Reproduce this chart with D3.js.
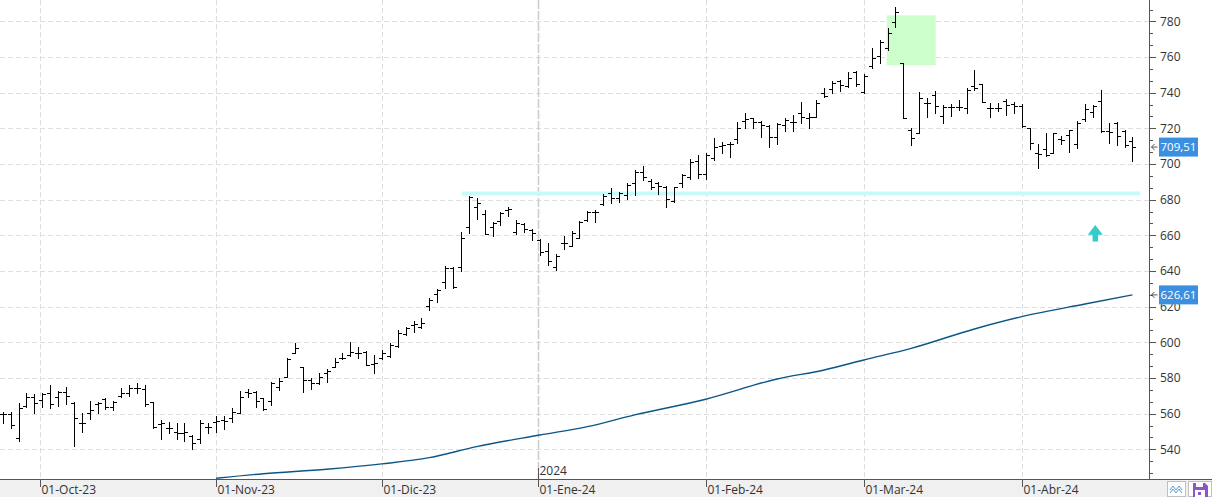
<!DOCTYPE html>
<html><head><meta charset="utf-8">
<script src="https://cdn.jsdelivr.net/npm/d3@7"></script>
<style>html,body{margin:0;padding:0;background:#fff;overflow:hidden}</style>
</head><body><svg id="c" width="1212" height="497"></svg>
<script>
// ---------- DATA ----------
const tradingDays = {
  "2023-09": [25,26,27,28,29],
  "2023-10": [2,3,4,5,6,9,10,11,12,13,16,17,18,19,20,23,24,25,26,27,30,31],
  "2023-11": [1,2,3,6,7,8,9,10,13,14,15,16,17,20,21,22,24,27,28,29,30],
  "2023-12": [1,4,5,6,7,8,11,12,13,14,15,18,19,20,21,22,26,27,28,29],
  "2024-01": [2,3,4,5,8,9,10,11,12,16,17,18,19,22,23,24,25,26,29,30,31],
  "2024-02": [1,2,5,6,7,8,9,12,13,14,15,16,20,21,22,23,26,27,28,29],
  "2024-03": [1,4,5,6,7,8,11,12,13,14,15,18,19,20,21,22,25,26,27,28],
  "2024-04": [1,2,3,4,5,8,9,10,11,12,15,16,17,18,19]
};
const monthLabels = ["01-Oct-23","01-Nov-23","01-Dic-23","01-Ene-24","01-Feb-24","01-Mar-24","01-Abr-24"];
const monthKeys   = ["2023-10","2023-11","2023-12","2024-01","2024-02","2024-03","2024-04"];
const yearMarkKey = "2024-01";
const yearLabel = "2024";

const opens = [559.6,559.6,546.5,564.3,569.5,567.7,571.4,569.5,572.3,566.2,554.6,560.6,565.2,568,564,569.9,571.8,574.2,573.6,566.3,554,551.8,549.5,549,547.7,545.6,552.3,555.5,
556.4,557.4,560.2,572.1,572.3,568.6,567.3,574.8,580.7,593.8,586,578.9,577,582.6,586.4,591,592.9,594.2,594.8,587.8,591,592.3,597.9,
604.6,609.7,608.8,620.3,627.1,633.6,641.5,642,664.5,676.1,672,664.9,668,674.2,661.7,666.2,663,657.4,651,642.2,655.5,654,658.3,668.6,673.3,
677.4,683.5,680.7,682.6,689.2,695.7,690.6,689.2,687.3,679.4,689.2,692.9,701.5,694.6,703.2,710.3,711.2,714,724.3,725.6,723.7,721.3,715,
721.9,723.7,728.8,725.6,726.5,740,741.9,746.7,743.7,751.8,740.6,754.9,760.6,764.9,779.8,756.4,719,717.2,734.4,738.7,726.9,731.8,731.8,
731.2,743.7,744.8,731.2,731.2,735.5,733.6,732.5,720,706.3,708.2,706.3,713.8,716.3,711.2,725,729.3,735.5,718.7,723.2,718.7,713];
const highs = [560.7,560.7,566.2,571.8,571,571.8,576,572.7,574.8,566.7,560.2,567,566.3,569,567.3,574.2,576,577,576,566.3,556.4,555.5,555,555,548,556.4,554.6,558.7,
558.7,563,572.7,573.6,572.7,569,577.6,579.8,591,599.8,586.4,579.8,582.6,584.9,591,593.8,600,597.6,595.3,592.9,595.7,599.4,607,
608.8,612.1,613.4,624.6,629.7,642.8,642,661.7,682,680.7,674.2,667.7,673.3,676.1,668.6,667.1,663.4,657.7,655.5,649.3,659.6,662.2,668,673.6,674.2,
683,686.3,684.5,689.2,696.6,698.9,691.4,690.1,687.7,687.3,694.4,702.6,705,706,714.4,712.5,712.5,723.7,728.8,725.6,724.1,721.9,722.8,
726,727.5,735,728.8,735.9,742.4,746.7,747.1,751.8,752.3,750.5,764.9,769.5,776.1,788.2,756.4,720,740.5,736.8,741.1,733.1,733.6,735.9,
742.4,752.7,744.8,734,734,736.2,735,733.6,720,711.2,717.2,717.2,715.7,719,724.3,733.6,733.1,741.5,722.8,723.7,719,715.3];
const lows = [554.6,551.7,544.7,563.9,560.6,563.5,563,564.3,565.2,542,549.5,556.8,560.2,562.4,562,569.5,570,571.8,564.5,552,546,549,545.8,544.7,540,543.3,549,549.9,
551.6,555.5,560.2,569.5,564,562,564.8,573.3,580.7,593.8,572,573.6,576.6,577.6,586,590.5,592.3,591,587.3,582.6,590.5,592,597.6,
604.1,606,607.8,618.1,622.8,630.3,630.3,640.2,661.1,669,660.7,659.6,665.8,670.8,660.7,661.7,657.4,649,643.3,640.3,652.1,654,658.3,668.2,667.7,
677,677.9,678.9,680.2,682.6,691,685.8,683.2,675.7,678.9,686.9,691.4,692,691.4,702.2,706,704,712,720,720,715.3,709.3,711.2,
718.5,718.5,723.2,720.4,726.2,737.4,739.6,741.1,743,743.7,739.6,753.6,756.8,763.9,777,725.6,710.6,717.2,726.5,728.8,723.2,726.9,730.3,
728.8,741.5,734.9,726.5,729.7,727.5,728.4,720.9,708.2,697.6,704.5,706,711.2,706.9,708.8,724.3,726.5,717.8,712,710.6,709.7,701.9];
const closes = [559.8,553.6,563,569.2,566.2,571,565.2,572.3,569.9,557.4,555,562,565.8,563.5,566.7,571.8,574.2,574.5,565.2,552.7,554.6,551.8,549,549.5,543.3,554.6,552.3,556,
556,561,569.5,571.8,567.3,562.8,577,578.5,590.6,596.6,578.9,577,580.7,584.1,589.2,591.3,594.8,593.8,587.3,588.2,594.2,598.5,605.4,
607.8,610.1,610.6,624,629.3,641.5,630.8,658.3,681.7,678.3,660.7,666.7,672.7,674.6,666.7,663.4,661.1,650.8,645.4,648.4,655.9,661.5,667.7,673.3,673.3,
682,681.1,683.9,688.2,695.7,692.9,686.9,687.7,680.4,686.9,693.8,701.3,694.5,705,709.3,710.6,711.2,720,725,723.7,721.9,715,722.4,
724.7,723.7,726.5,726.2,734.4,738.1,745.6,744.3,748,744.9,749.6,759.2,768.6,773.3,785.4,725.6,714.7,736.8,734.4,732.5,731.8,731.8,731.8,
741.5,742.4,734.9,731.2,731.2,733.1,732.8,721.1,711.8,705.6,705,717.2,713.4,719,722.8,730.6,732.5,718.7,718.1,715.7,710.6,709.51];

// 200-session moving average, read at selected sessions (index into the date list)
const smaIndex  = [27,33,41,48,54,60,68,74,80,89,98,104,109,115,123,129,137,143];
const smaValues = [523.8,526.3,528.8,531.8,535.3,541.5,548.0,552.7,559.3,568.1,579.4,584.5,590.1,596.6,607.5,614.4,621.5,626.61];

const yTickValues = [540,560,580,600,620,640,660,680,700,720,740,760,780];
const yDomain = [540,780];

// drawn annotations (data units)
const supportLevel = 683.5, supportStart = 58.1, supportEnd = 144;
const zoneStart = 111.9, zoneEnd = 118.1, zoneLow = 755.4, zoneHigh = 783.4;
const arrowAt = 138.3, arrowTop = 665.8, arrowBottom = 656.6;

// ---------- BUILD ----------
const dates = [];
Object.keys(tradingDays).forEach(k => tradingDays[k].forEach(d => dates.push(k + "-" + String(d).padStart(2,"0"))));
const bars = dates.map((d,i)=>({d, o:opens[i], h:highs[i], l:lows[i], c:closes[i]}));

const W=1212, H=497, axisX=1149, axisY=479;
const svg = d3.select("#c");
const font = "'Open Sans', 'Noto Sans', sans-serif";

const x = d3.scalePoint().domain(dates).range([2.7, 1132.4]);
const xi = d3.scaleLinear().domain([0, dates.length-1]).range([2.7, 1132.4]);
const y = d3.scaleLinear().domain(yDomain).range([449.3, 21.4]);

// calendar position of the 1st of a month, between surrounding sessions
function monthStartX(k){
  const i = dates.findIndex(d => d.startsWith(k));
  const first = new Date(k + "-01T00:00:00Z");
  const di = new Date(dates[i] + "T00:00:00Z");
  if (i === 0 || +di === +first) return x(dates[i]);
  const dp = new Date(dates[i-1] + "T00:00:00Z");
  const f = (first - dp) / (di - dp);
  return x(dates[i-1]) + f * (x(dates[i]) - x(dates[i-1]));
}
const monthX = monthKeys.map(monthStartX);

// backgrounds
svg.append("rect").attr("width",W).attr("height",H).attr("fill","#fff");
svg.append("rect").attr("x",0).attr("y",axisY).attr("width",W).attr("height",H-axisY).attr("fill","#f0f0f0");

svg.append("defs").append("clipPath").attr("id","plot").append("rect")
  .attr("x",0).attr("y",0).attr("width",axisX).attr("height",axisY);
const plot = svg.append("g").attr("clip-path","url(#plot)");

// horizontal grid
plot.selectAll("line.hg").data(yTickValues).join("line")
  .attr("x1",0).attr("x2",axisX)
  .attr("y1",d=>Math.round(y(d))+0.5).attr("y2",d=>Math.round(y(d))+0.5)
  .attr("stroke","#dddddd").attr("stroke-dasharray","5,3");

// month starts
plot.selectAll("line.vg").data(monthX).join("line")
  .attr("x1",v=>Math.round(v)+0.5).attr("x2",v=>Math.round(v)+0.5)
  .attr("y1",0).attr("y2",axisY)
  .attr("stroke",(v,j)=>monthKeys[j]===yearMarkKey?"#cccccc":"#dddddd")
  .attr("stroke-width",(v,j)=>monthKeys[j]===yearMarkKey?1.5:1)
  .attr("stroke-dasharray",(v,j)=>monthKeys[j]===yearMarkKey?"9,2":"5,3");

// green zone
plot.append("rect")
  .attr("x",xi(zoneStart)).attr("y",y(zoneHigh))
  .attr("width",xi(zoneEnd)-xi(zoneStart)).attr("height",y(zoneLow)-y(zoneHigh))
  .attr("fill","#ccffcc");

// support line
plot.append("line")
  .attr("x1",xi(supportStart)).attr("x2",xi(supportEnd))
  .attr("y1",y(supportLevel)).attr("y2",y(supportLevel))
  .attr("stroke","#c8fafa").attr("stroke-width",4);

// SMA
plot.append("path")
  .datum(smaIndex.map((i,k)=>[x(dates[i]), y(smaValues[k])]))
  .attr("d", d3.line().curve(d3.curveMonotoneX))
  .attr("fill","none").attr("stroke","#0b5686").attr("stroke-width",1.4);

// OHLC bars
plot.append("path")
  .attr("d", bars.map(b=>{
    const bx = Math.round(x(b.d))+0.5;
    const yh=Math.round(y(b.h)), yl=Math.round(y(b.l)), yo=Math.round(y(b.o))+0.5, yc=Math.round(y(b.c))+0.5;
    return `M${bx},${yh}V${yl+1}M${bx-3.5},${yo}H${bx}M${bx},${yc}H${bx+3.5}`;
  }).join(""))
  .attr("fill","none").attr("stroke","#000").attr("stroke-width",1);

// up arrow
{
  const ax = xi(arrowAt), at=y(arrowTop), ab=y(arrowBottom);
  const hh = (ab-at)*0.6;
  plot.append("path")
    .attr("d",`M${ax},${at}L${ax+7.5},${at+hh}H${ax+2.7}V${ab}H${ax-2.7}V${at+hh}H${ax-7.5}Z`)
    .attr("fill","#33cccc");
}

// right axis
const ra = svg.append("g");
ra.append("line").attr("x1",axisX+0.5).attr("x2",axisX+0.5).attr("y1",0).attr("y2",axisY)
  .attr("stroke","#555").attr("stroke-width",1);
const minorStep = (yTickValues[1]-yTickValues[0])/3;
const minor = d3.range(yDomain[0]-2*minorStep, yDomain[1]+2*minorStep, minorStep).filter(v=>y(v)>0 && y(v)<axisY);
ra.selectAll("line.mt").data(minor).join("line")
  .attr("x1",axisX).attr("x2",axisX+4)
  .attr("y1",d=>Math.round(y(d))+0.5).attr("y2",d=>Math.round(y(d))+0.5)
  .attr("stroke","#555");
ra.selectAll("line.Mt").data(yTickValues).join("line")
  .attr("x1",axisX).attr("x2",axisX+7)
  .attr("y1",d=>Math.round(y(d))+0.5).attr("y2",d=>Math.round(y(d))+0.5)
  .attr("stroke","#555");
ra.selectAll("text").data(yTickValues).join("text")
  .attr("x",axisX+11).attr("y",d=>y(d)).attr("dy","0.36em")
  .attr("font-family",font).attr("font-size",12).attr("fill","#333")
  .text(d=>d);

// bottom axis
const ba = svg.append("g");
ba.append("line").attr("x1",0).attr("x2",W).attr("y1",axisY+0.5).attr("y2",axisY+0.5).attr("stroke","#555");
ba.selectAll("line.t").data(monthX).join("line")
  .attr("x1",v=>Math.round(v)+0.5).attr("x2",v=>Math.round(v)+0.5)
  .attr("y1",axisY).attr("y2",axisY+8).attr("stroke","#555");
ba.selectAll("text").data(monthX).join("text")
  .attr("x",v=>Math.round(v)+1.5).attr("y",494)
  .attr("font-family",font).attr("font-size",12).attr("fill","#333")
  .text((v,j)=>monthLabels[j]);
{
  const yx = Math.round(monthX[monthKeys.indexOf(yearMarkKey)])+0.5;
  ba.append("line").attr("x1",yx).attr("x2",yx).attr("y1",axisY-11).attr("y2",axisY).attr("stroke","#555");
  ba.append("text").attr("x",yx+1).attr("y",axisY-4)
    .attr("font-family",font).attr("font-size",12).attr("fill","#333").text(yearLabel);
}

// last-value labels
function valueTag(v){
  const yy = y(v);
  svg.append("rect").attr("x",1159).attr("y",yy-9.5).attr("width",39).attr("height",19).attr("fill","#3c8fe0");
  svg.append("text").attr("x",1160.5).attr("y",yy).attr("dy","0.36em")
    .attr("font-family",font).attr("font-size",11.5).attr("fill","#fff")
    .text(d3.format(".2f")(v).replace(".",","));
  svg.append("path").attr("d",`M${1151.5},${yy}l3,-3M${1151.5},${yy}l3,3M${1151.5},${yy}h6`)
    .attr("stroke","#555").attr("fill","none");
}
valueTag(closes[closes.length-1]);
valueTag(smaValues[smaValues.length-1]);

// toolbar icons
svg.append("rect").attr("x",1167.5).attr("y",481.5).attr("width",18).attr("height",15).attr("fill","#fff").attr("stroke","#c0c0c0");
svg.append("path").attr("d","M1170,490l3,-4l3,4l3,-4l3,4M1170,493l3,-4l3,4l3,-4l3,4").attr("fill","none").attr("stroke","#5a9bd5").attr("stroke-width",1);
svg.append("rect").attr("x",1188.5).attr("y",481.5).attr("width",23).attr("height",15).attr("fill","#fff").attr("stroke","#c0c0c0");
svg.append("path").attr("d","M1193,483h12l3,3v11h-15z").attr("fill","#8e55c8");
svg.append("rect").attr("x",1196).attr("y",483).attr("width",7).attr("height",4).attr("fill","#fff");
svg.append("rect").attr("x",1195).attr("y",490).attr("width",10).attr("height",7).attr("fill","#fff");
svg.append("rect").attr("x",1198).attr("y",492).attr("width",3).attr("height",3).attr("fill","#8e55c8");
</script>
</body></html>
